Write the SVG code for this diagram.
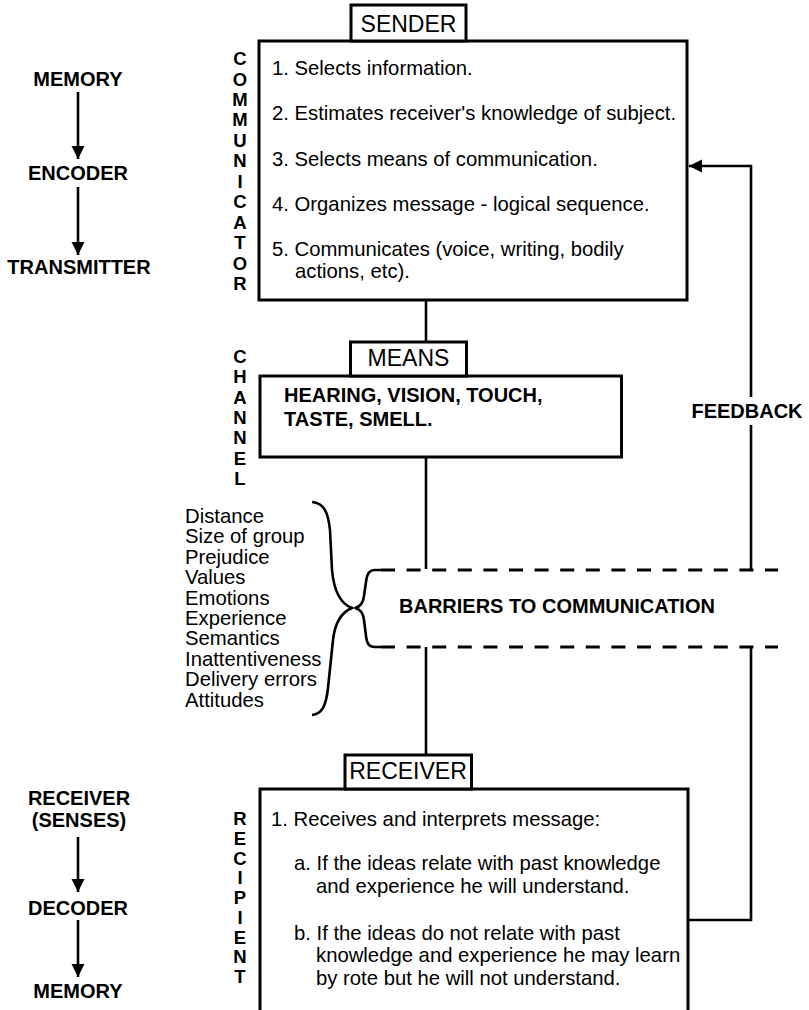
<svg xmlns="http://www.w3.org/2000/svg" width="809" height="1010" viewBox="0 0 809 1010">
<defs>
<style>
.box{fill:#fff;stroke:#000;stroke-width:3}
.ln{fill:none;stroke:#000;stroke-width:2.6}
.dash{fill:none;stroke:#000;stroke-width:3;stroke-dasharray:14 11.6}
.t{font-family:"Liberation Sans",Arial,sans-serif;font-size:20.3px;fill:#000}
.b{font-family:"Liberation Sans",Arial,sans-serif;font-size:20px;font-weight:bold;fill:#000}
.lbl{font-family:"Liberation Sans",Arial,sans-serif;font-size:23px;fill:#000;text-anchor:middle}
.c{text-anchor:middle}
.vl{font-family:"Liberation Sans",Arial,sans-serif;font-size:18.5px;font-weight:bold;fill:#000;text-anchor:middle}
</style>
<marker id="ah" markerUnits="userSpaceOnUse" markerWidth="14" markerHeight="14" refX="13" refY="6.5" orient="auto">
<path d="M0,0 L13,6.5 L0,13 Z" fill="#000"/>
</marker>
</defs>
<rect width="809" height="1010" fill="#fff"/>

<g id="connectors">
<line class="ln" x1="78" y1="92" x2="78" y2="159" marker-end="url(#ah)"/>
<line class="ln" x1="78" y1="187" x2="78" y2="255" marker-end="url(#ah)"/>
<line class="ln" x1="78" y1="837" x2="78" y2="892" marker-end="url(#ah)"/>
<line class="ln" x1="78" y1="920" x2="78" y2="977" marker-end="url(#ah)"/>
<line class="ln" x1="426" y1="300" x2="426" y2="342"/>
<line class="ln" x1="426" y1="457" x2="426" y2="569"/>
<line class="ln" x1="426" y1="647" x2="426" y2="755"/>
<polyline class="ln" points="688,920 751,920 751,647"/>
<line class="ln" x1="751" y1="569" x2="751" y2="425"/>
<polyline class="ln" points="751,397 751,166 689,166" marker-end="url(#ah)"/>
</g>

<g id="memory-top"><text class="b c" x="78" y="86">MEMORY</text></g>
<g id="encoder"><text class="b c" x="78" y="180">ENCODER</text></g>
<g id="transmitter"><text class="b c" x="79" y="274">TRANSMITTER</text></g>

<g id="communicator-label">
<text class="vl"><tspan x="240" y="65">C</tspan><tspan x="240" y="85.5">O</tspan><tspan x="240" y="105.9">M</tspan><tspan x="240" y="126.4">M</tspan><tspan x="240" y="146.8">U</tspan><tspan x="240" y="167.3">N</tspan><tspan x="240" y="187.7">I</tspan><tspan x="240" y="208.2">C</tspan><tspan x="240" y="228.6">A</tspan><tspan x="240" y="249.1">T</tspan><tspan x="240" y="269.5">O</tspan><tspan x="240" y="290">R</tspan></text>
</g>

<g id="sender">
<rect class="box" x="259" y="41" width="428" height="259"/>
<rect class="box" x="351" y="5" width="115" height="36"/>
<text class="lbl" x="408.5" y="32">SENDER</text>
<text class="t" x="272" y="75">1. Selects information.</text>
<text class="t" x="272" y="120">2. Estimates receiver's knowledge of subject.</text>
<text class="t" x="272" y="166">3. Selects means of communication.</text>
<text class="t" x="272" y="211">4. Organizes message - logical sequence.</text>
<text class="t" x="272" y="256">5. Communicates (voice, writing, bodily</text>
<text class="t" x="295" y="278">actions, etc).</text>
</g>

<g id="channel-label">
<text class="vl"><tspan x="240" y="363">C</tspan><tspan x="240" y="383.3">H</tspan><tspan x="240" y="403.7">A</tspan><tspan x="240" y="424">N</tspan><tspan x="240" y="444.3">N</tspan><tspan x="240" y="464.7">E</tspan><tspan x="240" y="485">L</tspan></text>
</g>

<g id="means">
<rect class="box" x="260" y="376" width="361.5" height="81"/>
<rect class="box" x="350.5" y="342" width="116" height="34"/>
<text class="lbl" x="408.5" y="366">MEANS</text>
<text class="b" x="284" y="402">HEARING, VISION, TOUCH,</text>
<text class="b" x="284" y="426">TASTE, SMELL.</text>
</g>

<g id="barrier-list">
<text class="t" x="185" y="523">Distance</text>
<text class="t" x="185" y="543.4">Size of group</text>
<text class="t" x="185" y="563.8">Prejudice</text>
<text class="t" x="185" y="584.2">Values</text>
<text class="t" x="185" y="604.6">Emotions</text>
<text class="t" x="185" y="625">Experience</text>
<text class="t" x="185" y="645.4">Semantics</text>
<text class="t" x="185" y="665.8">Inattentiveness</text>
<text class="t" x="185" y="686.2">Delivery errors</text>
<text class="t" x="185" y="706.6">Attitudes</text>
<path class="ln" d="M312,502 C324,503 328,512 330,530 L332,570 C334,592 341,604 352,608 C342,612 335,622 333,640 L328,688 C326,706 322,714 312,715"/>
</g>

<g id="barriers">
<path class="ln" d="M381,570 L375,570 C369,570 367,574 366,582 L364,596 C363,604 360,607 355,608 C360,609 363,612 364,620 L366,636 C367,644 369,647 375,647 L381,647"/>
<line class="dash" x1="381" y1="570" x2="778" y2="570"/>
<line class="dash" x1="381" y1="647" x2="778" y2="647"/>
<text class="b" x="399" y="613">BARRIERS TO COMMUNICATION</text>
</g>

<g id="feedback-label"><text class="b c" x="747" y="418">FEEDBACK</text></g>

<g id="receiver-senses"><text class="b c" x="79" y="805">RECEIVER</text><text class="b c" x="79" y="827">(SENSES)</text></g>
<g id="decoder"><text class="b c" x="78" y="915">DECODER</text></g>
<g id="memory-bottom"><text class="b c" x="78" y="998">MEMORY</text></g>

<g id="recipient-label">
<text class="vl"><tspan x="240" y="825">R</tspan><tspan x="240" y="844.8">E</tspan><tspan x="240" y="864.5">C</tspan><tspan x="240" y="884.3">I</tspan><tspan x="240" y="904">P</tspan><tspan x="240" y="923.8">I</tspan><tspan x="240" y="943.5">E</tspan><tspan x="240" y="963.3">N</tspan><tspan x="240" y="983">T</tspan></text>
</g>

<g id="receiver">
<path class="box" d="M260,1015 V789 H688 V1015"/>
<rect class="box" x="345" y="755" width="126.5" height="34"/>
<text class="lbl" x="408" y="779">RECEIVER</text>
<text class="t" x="271" y="826">1. Receives and interprets message:</text>
<text class="t" x="294" y="870">a. If the ideas relate with past knowledge</text>
<text class="t" x="316" y="893">and experience he will understand.</text>
<text class="t" x="294" y="940">b. If the ideas do not relate with past</text>
<text class="t" x="316" y="962">knowledge and experience he may learn</text>
<text class="t" x="316" y="985">by rote but he will not understand.</text>
</g>
</svg>
